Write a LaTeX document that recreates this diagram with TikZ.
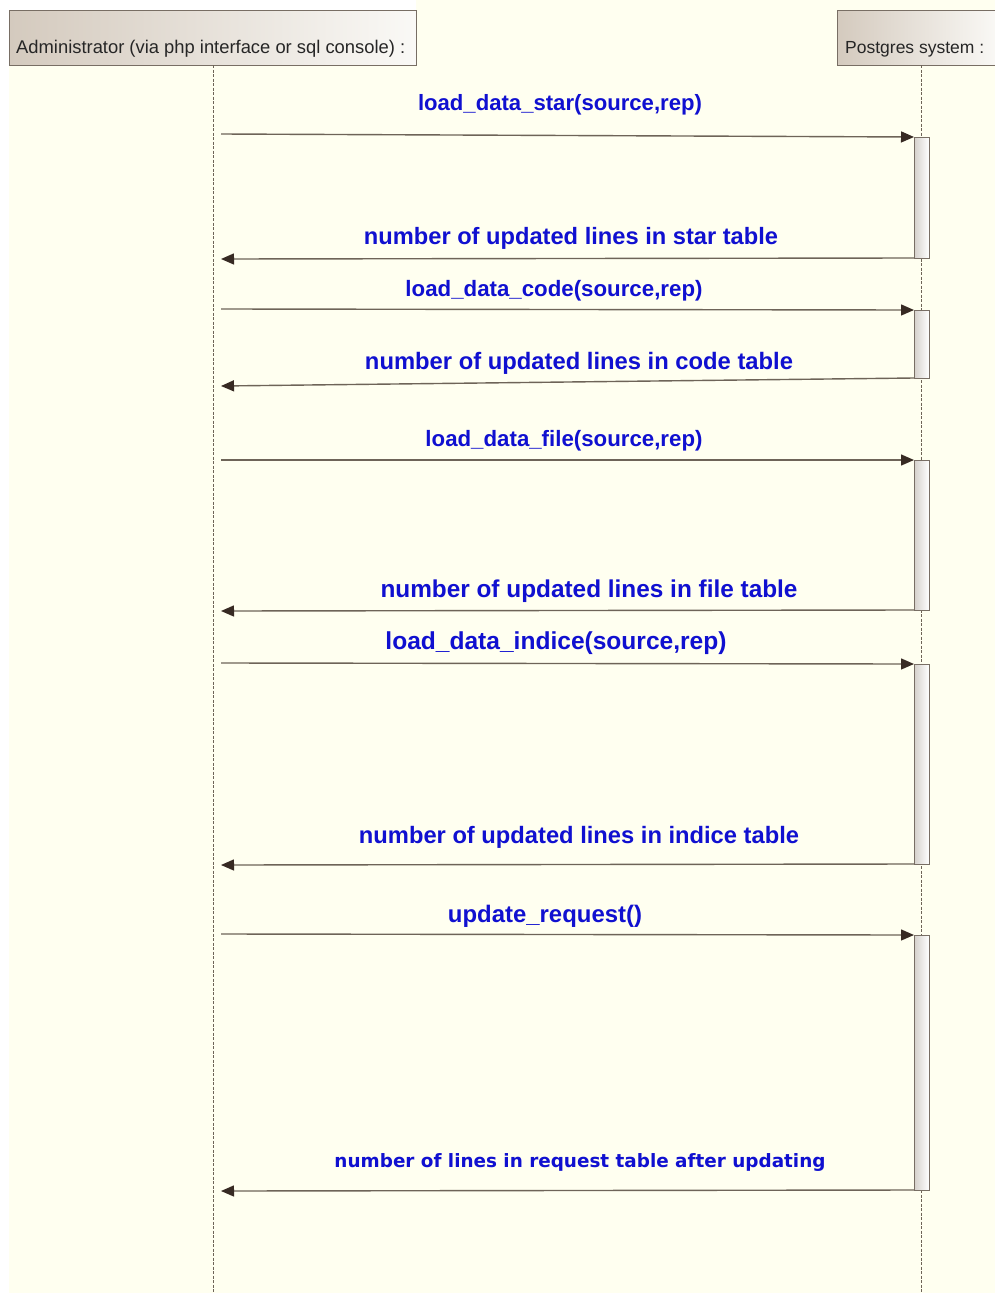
\documentclass[tikz,border=0pt]{standalone}
\usepackage{fontspec}
\setmainfont{Liberation Sans}
\newfontfamily\lblfont{Liberation Sans}
\newfontfamily\dvfont{DejaVu Sans}
\usetikzlibrary{arrows.meta,shadings}
\definecolor{bgivory}{RGB}{255,255,240}
\definecolor{hdrtan}{RGB}{212,202,190}
\definecolor{hdrwhite}{RGB}{250,249,246}
\definecolor{framecol}{RGB}{120,110,100}
\definecolor{linecol}{RGB}{110,100,88}
\definecolor{tipcol}{RGB}{55,42,35}
\definecolor{lblblue}{RGB}{16,16,208}
\definecolor{actgray}{RGB}{212,208,202}
\newcommand{\lbl}[2]{\resizebox{#1pt}{!}{\lblfont\bfseries #2}}
\newcommand{\lbldv}[2]{\resizebox{#1pt}{!}{\dvfont\bfseries #2}}
\newcommand{\hdr}[2]{\resizebox{#1pt}{!}{\lblfont #2}}
\tikzset{
  header/.style={draw=framecol, line width=1pt, left color=hdrtan, right color=hdrwhite,
    shading angle=90, inner sep=0pt, outer sep=0pt},
  lifeline/.style={draw=linecol, line width=1pt, dash pattern=on 3pt off 1.5pt},
  actbox/.style={draw=framecol, line width=1pt, left color=actgray, right color=white,
    minimum width=15pt, inner sep=0pt, outer sep=0pt},
  msg/.style={draw=linecol, line width=1.4pt, -{Triangle[length=13pt,width=11pt,color=tipcol]}},
  msglbl/.style={text=lblblue, anchor=base, inner sep=0pt},
  hdrtext/.style={anchor=base west, inner sep=0pt, text=black!85}
}
\begin{document}
\begin{tikzpicture}[x=1pt,y=-1pt]
\useasboundingbox (0,0) rectangle (995,1293);
% background
\fill[white] (0,0) rectangle (995,1293);
\fill[bgivory] (9,10) rectangle (995,1293);
\fill[bgivory] (416,0) rectangle (995,10);
% headers
\path[header] (9,10) rectangle (416,65);
\node[hdrtext] (admtxt) at (16,53) {\hdr{389}{Administrator (via php interface or sql console) :}};
\path[header] (837,10) rectangle (999,65);
\node[hdrtext] (pgtxt) at (845,53) {\hdr{139}{Postgres system :}};
% lifelines
\coordinate (admtop) at (213,65);
\coordinate (admbot) at (213,1293);
\coordinate (pgtop) at (921,65);
\coordinate (pgbot) at (921,1293);
\draw[lifeline] (admtop) -- (admbot);
\draw[lifeline] (pgtop) -- (pgbot);
% activation boxes
\node[actbox, minimum height=121pt, anchor=north] (act1) at (921.5,137) {};
\node[actbox, minimum height=68pt, anchor=north] (act2) at (921.5,310) {};
\node[actbox, minimum height=150pt, anchor=north] (act3) at (921.5,460) {};
\node[actbox, minimum height=200pt, anchor=north] (act4) at (921.5,664) {};
\node[actbox, minimum height=255pt, anchor=north] (act5) at (921.5,935) {};
% admin side coordinates
\coordinate (c1) at (221,134);
\coordinate (r1) at (221,259);
\coordinate (c2) at (221,309);
\coordinate (r2) at (221,386);
\coordinate (c3) at (221,460);
\coordinate (r3) at (221,611);
\coordinate (c4) at (221,663);
\coordinate (r4) at (221,865);
\coordinate (c5) at (221,934);
\coordinate (r5) at (221,1191);
% messages
\draw[msg] (c1) -- (act1.north west);
\draw[msg] (act1.south west) -- (r1);
\draw[msg] (c2) -- (act2.north west);
\draw[msg] (act2.south west) -- (r2);
\draw[msg] (c3) -- (act3.north west);
\draw[msg] (act3.south west) -- (r3);
\draw[msg] (c4) -- (act4.north west);
\draw[msg] (act4.south west) -- (r4);
\draw[msg] (c5) -- (act5.north west);
\draw[msg] (act5.south west) -- (r5);
% labels
\node[msglbl] (l1) at (560,110) {\lbl{284}{load\_data\_star(source,rep)}};
\node[msglbl] (l2) at (571,244) {\lbl{414}{number of updated lines in star table}};
\node[msglbl] (l3) at (554,296) {\lbl{297}{load\_data\_code(source,rep)}};
\node[msglbl] (l4) at (579,369) {\lbl{428}{number of updated lines in code table}};
\node[msglbl] (l5) at (564,446) {\lbl{277}{load\_data\_file(source,rep)}};
\node[msglbl] (l6) at (589,597) {\lbl{417}{number of updated lines in file table}};
\node[msglbl] (l7) at (556,649) {\lbl{341}{load\_data\_indice(source,rep)}};
\node[msglbl] (l8) at (579,843) {\lbl{440}{number of updated lines in indice table}};
\node[msglbl] (l9) at (545,922) {\lbl{194}{update\_request()}};
\node[msglbl] (l10) at (580,1167) {\lbldv{491}{number of lines in request table after updating}};
\end{tikzpicture}
\end{document}
